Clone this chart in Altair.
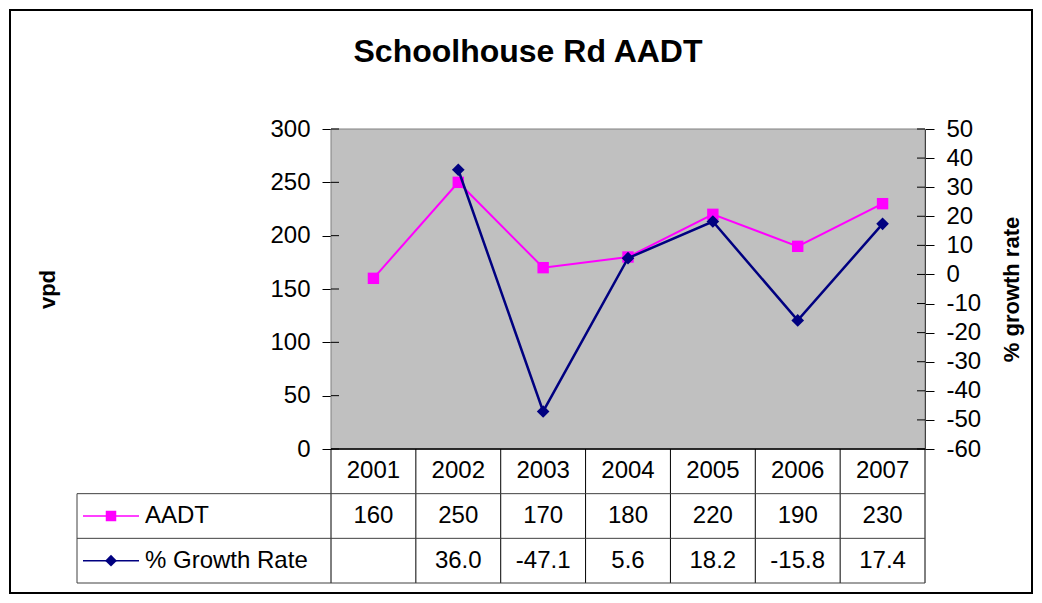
import altair as alt
import pandas as pd

# ---- data ----
title_text = "Schoolhouse Rd AADT"
years = ["2001", "2002", "2003", "2004", "2005", "2006", "2007"]
aadt = [160, 250, 170, 180, 220, 190, 230]
growth_years = ["2002", "2003", "2004", "2005", "2006", "2007"]
growth = [36.0, -47.1, 5.6, 18.2, -15.8, 17.4]
left_ticks = [0, 50, 100, 150, 200, 250, 300]
right_ticks = [-60, -50, -40, -30, -20, -10, 0, 10, 20, 30, 40, 50]
row_keys = ["header", "AADT", "growth"]
series_names = ["AADT", "% Growth Rate"]
series_colors = ["#FF00FF", "#000080"]
series_shapes = ["square", "diamond"]

FONT = "Liberation Sans"
W, H = 594, 320
TABLE_BOTTOM = 454
LEGEND_LEFT = -254

df_aadt = pd.DataFrame({"year": years, "aadt": aadt})
df_growth = pd.DataFrame({"year": growth_years, "growth": growth})

xscale = alt.Scale(domain=years, paddingInner=0, paddingOuter=0)
x_enc = alt.X("year:N", scale=xscale, axis=None)

yl = alt.Scale(domain=[0, 300], nice=False, zero=False)
yr = alt.Scale(domain=[-60, 50], nice=False, zero=False)

common_axis = dict(tickSize=9, labelPadding=12, labelFontSize=24, labelFont=FONT,
                   labelColor="black", domainColor="black", tickColor="black",
                   grid=False, titleFont=FONT, titleFontSize=22, titleFontWeight="bold",
                   titleAngle=270, titleY=160, titleAlign="center",
                   titleBaseline="middle", titleColor="black", labelFlush=False,
                   labelOverlap=False, labelExpr="toString(datum.value)")

axis_left = alt.Axis(orient="left", values=left_ticks, title="vpd", titleX=-284, **common_axis)
axis_right = alt.Axis(orient="right", values=right_ticks, title="% growth rate", titleX=86,
                      **common_axis)

one = pd.DataFrame({"k": [0]})

# ---- plot area background ----
plot_bg = alt.Chart(one).mark_rect(fill="#C0C0C0", stroke="#808080", strokeWidth=1).encode(
    x=alt.value(0), x2=alt.value(W), y=alt.value(0), y2=alt.value(H))

# ---- AADT group ----
base_a = alt.Chart(df_aadt).encode(x=x_enc, y=alt.Y("aadt:Q", scale=yl, axis=axis_left))
line_a = base_a.mark_line(color=series_colors[0], strokeWidth=2)
pts_a = base_a.mark_point(shape="square", filled=True, size=130, color=series_colors[0], opacity=1)
tin_a = alt.Chart(pd.DataFrame({"aadt": left_ticks})).mark_rule(color="black").encode(
    y=alt.Y("aadt:Q", scale=yl, axis=axis_left), x=alt.value(0), x2=alt.value(8))
group_a = alt.layer(tin_a, line_a, pts_a)

# ---- Growth group ----
base_g = alt.Chart(df_growth).encode(x=x_enc, y=alt.Y("growth:Q", scale=yr, axis=axis_right))
line_g = base_g.mark_line(color=series_colors[1], strokeWidth=2.5)
pts_g = base_g.mark_point(shape="diamond", filled=True, size=160, color=series_colors[1], opacity=1)
tin_g = alt.Chart(pd.DataFrame({"growth": right_ticks})).mark_rule(color="black").encode(
    y=alt.Y("growth:Q", scale=yr, axis=axis_right), x=alt.value(W - 8), x2=alt.value(W))
group_g = alt.layer(tin_g, line_g, pts_g)

# ---- data table ----
yrow = alt.Scale(domain=row_keys, range=[H, TABLE_BOTTOM], paddingInner=0, paddingOuter=0)

cells = []
for y in years:
    cells.append({"year": y, "row": "header", "label": y})
for y, v in zip(years, aadt):
    cells.append({"year": y, "row": "AADT", "label": str(v)})
for y, v in zip(growth_years, growth):
    cells.append({"year": y, "row": "growth", "label": f"{v:.1f}"})
df_cells = pd.DataFrame(cells)

cell_text = alt.Chart(df_cells).mark_text(font=FONT, fontSize=24, color="black",
                                           baseline="middle", align="center").encode(
    x=x_enc, y=alt.Y("row:N", scale=yrow, axis=None), text="label:N")

grid_color = "#000000"
df_years = pd.DataFrame({"year": years})
vlines = alt.Chart(df_years).mark_rule(color=grid_color, strokeWidth=1).encode(
    x=alt.X("year:N", scale=xscale, axis=None, bandPosition=0),
    y=alt.value(H), y2=alt.value(TABLE_BOTTOM))
vline_right = alt.Chart(pd.DataFrame({"year": [years[-1]]})).mark_rule(
    color=grid_color, strokeWidth=1).encode(
    x=alt.X("year:N", scale=xscale, axis=None, bandPosition=1),
    y=alt.value(H), y2=alt.value(TABLE_BOTTOM))

hline_top = alt.Chart(pd.DataFrame({"row": ["header"]})).mark_rule(
    color="black", strokeWidth=1.5).encode(
    y=alt.Y("row:N", scale=yrow, axis=None, bandPosition=0),
    x=alt.value(0), x2=alt.value(W))
hlines = alt.Chart(pd.DataFrame({"row": ["AADT", "growth"]})).mark_rule(
    color="#404040", strokeWidth=1).encode(
    y=alt.Y("row:N", scale=yrow, axis=None, bandPosition=0),
    x=alt.value(LEGEND_LEFT), x2=alt.value(W))
hline_bottom = alt.Chart(pd.DataFrame({"row": ["growth"]})).mark_rule(
    color="#404040", strokeWidth=1).encode(
    y=alt.Y("row:N", scale=yrow, axis=None, bandPosition=1),
    x=alt.value(LEGEND_LEFT), x2=alt.value(W))
vline_legend = alt.Chart(pd.DataFrame({"row": ["AADT"]})).mark_rule(
    color="#404040", strokeWidth=1).encode(
    y=alt.Y("row:N", scale=yrow, axis=None, bandPosition=0),
    y2=alt.value(TABLE_BOTTOM), x=alt.value(LEGEND_LEFT))

df_leg = pd.DataFrame({"row": ["AADT", "growth"], "label": series_names,
                       "color": series_colors, "shape": series_shapes,
                       "size": [110, 140]})
leg_line = alt.Chart(df_leg).mark_rule(strokeWidth=1.5).encode(
    y=alt.Y("row:N", scale=yrow, axis=None),
    x=alt.value(-248), x2=alt.value(-192),
    color=alt.Color("color:N", scale=None))
leg_pt = alt.Chart(df_leg).mark_point(filled=True, opacity=1).encode(
    y=alt.Y("row:N", scale=yrow, axis=None),
    x=alt.value(-220),
    color=alt.Color("color:N", scale=None),
    shape=alt.Shape("shape:N", scale=None),
    size=alt.Size("size:Q", scale=None))
leg_text = alt.Chart(df_leg).mark_text(font=FONT, fontSize=24, color="black",
                                        align="left", baseline="middle").encode(
    y=alt.Y("row:N", scale=yrow, axis=None), x=alt.value(-186), text="label:N")

table = alt.layer(vlines, vline_right, vline_legend, hlines, hline_bottom, hline_top,
                  cell_text, leg_line, leg_pt, leg_text)

# ---- outer border and title ----
border = alt.Chart(one).mark_rect(
    fill=None, stroke="black", strokeWidth=2).encode(
    x=alt.value(-321), x2=alt.value(W + 107), y=alt.value(-119), y2=alt.value(H + 144))

title = alt.Chart(pd.DataFrame({"t": [title_text]})).mark_text(
    font=FONT, fontSize=32, fontWeight="bold", color="black",
    align="center", baseline="alphabetic").encode(
    text="t:N", x=alt.value(197), y=alt.value(-67))

chart = alt.layer(border, plot_bg, title, table, group_a, group_g).resolve_scale(
    y="independent"
).properties(
    width=W, height=H,
    autosize=alt.AutoSizeParams(type="none"),
    padding={"left": 323, "top": 121, "right": 109, "bottom": 146},
).configure_view(stroke=None
).configure(background="white")

chart.save("out.html", embed_options={"renderer": "svg", "actions": False})
